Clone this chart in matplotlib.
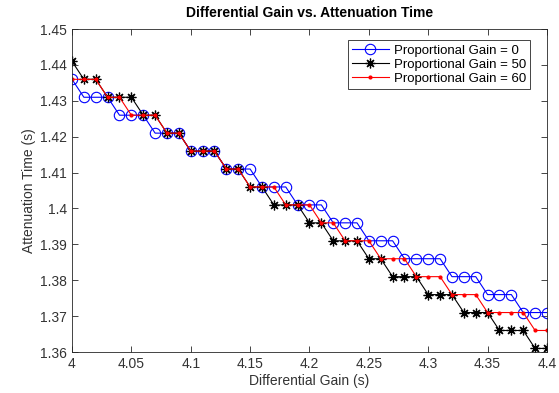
import numpy as np
import matplotlib
matplotlib.use("Agg")
import matplotlib.pyplot as plt
from matplotlib.ticker import FuncFormatter

# differential gain values (x axis)
diff_gain = [round(4.0 + 0.01 * i, 2) for i in range(41)]

# attenuation time for each proportional gain
gain_0 = ([1.436] + [1.431] * 3 + [1.426] * 3 + [1.421] * 3 + [1.416] * 3
          + [1.411] * 3 + [1.406] * 3 + [1.401] * 3 + [1.396] * 3 + [1.391] * 3
          + [1.386] * 4 + [1.381] * 3 + [1.376] * 3 + [1.371] * 3)
gain_50 = ([1.441] + [1.436] * 2 + [1.431] * 3 + [1.426] * 2 + [1.421] * 2
           + [1.416] * 3 + [1.411] * 2 + [1.406] * 2 + [1.401] * 3 + [1.396] * 2
           + [1.391] * 3 + [1.386] * 2 + [1.381] * 3 + [1.376] * 3 + [1.371] * 3
           + [1.366] * 3 + [1.361] * 2)
gain_60 = ([1.436] * 3 + [1.431] * 2 + [1.426] * 3 + [1.421] * 2 + [1.416] * 3
           + [1.411] * 2 + [1.406] * 3 + [1.401] * 3 + [1.396] * 2 + [1.391] * 3
           + [1.386] * 3 + [1.381] * 3 + [1.376] * 3 + [1.371] * 4 + [1.366] * 2)

labels = ["Proportional Gain = 0", "Proportional Gain = 50", "Proportional Gain = 60"]

plt.rcParams['font.family'] = ['Liberation Sans', 'DejaVu Sans']
plt.rcParams['font.size'] = 10

fig = plt.figure(figsize=(5.59, 3.93), dpi=100)
ax = fig.add_axes([0.1288, 0.1043, 0.8497, 0.8217])

ax.plot(diff_gain, gain_0, linestyle='-', marker='o', color='#0000ff', mfc='none',
        ms=7.5, lw=0.8, mew=0.8, label=labels[0])
ax.plot(diff_gain, gain_50, linestyle='-', marker=(8, 2, 0), color='k',
        ms=7, lw=0.8, mew=0.9, label=labels[1])
ax.plot(diff_gain, gain_60, linestyle='-', marker='.', color='#ff0000',
        ms=4, lw=0.8, label=labels[2])

ax.set_xlim(4, 4.4)
ax.set_ylim(1.36, 1.45)
ax.set_xticks(np.arange(4, 4.401, 0.05))
ax.set_yticks(np.arange(1.36, 1.4501, 0.01))
fmt = FuncFormatter(lambda v, p: '%g' % round(v, 3))
ax.xaxis.set_major_formatter(fmt)
ax.yaxis.set_major_formatter(fmt)

gray = '#262626'
for s in ax.spines.values():
    s.set_color(gray)
    s.set_linewidth(0.6)
ax.tick_params(direction='in', length=4, width=0.6, colors=gray, labelsize=10,
               top=True, right=True, labeltop=False, labelright=False)
for lab in ax.get_xticklabels() + ax.get_yticklabels():
    lab.set_color('#333333')

ax.set_xlabel("Differential Gain (s)", fontsize=10, color='#333333', labelpad=2)
ax.set_ylabel("Attenuation Time (s)", fontsize=10, color='#333333', labelpad=3)
ax.set_title("Differential Gain vs. Attenuation Time", fontsize=10, fontweight='bold', pad=9)

leg = ax.legend(loc='upper right', bbox_to_anchor=(0.965, 0.965), fontsize=9.5,
                fancybox=False, framealpha=1, edgecolor=gray, borderpad=0.3,
                labelspacing=0.15, handlelength=2.8, handletextpad=0.4, borderaxespad=0)
leg.get_frame().set_linewidth(0.6)

fig.savefig("out.png", dpi=100)
